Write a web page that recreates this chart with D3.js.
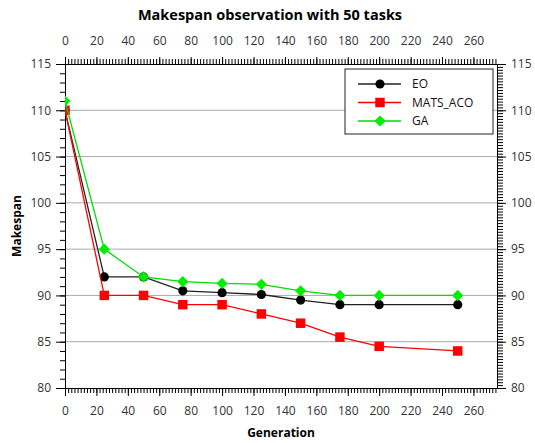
<!DOCTYPE html>
<html>
<head>
<meta charset="utf-8">
<script src="https://cdn.jsdelivr.net/npm/d3@7"></script>
<style>
  body { margin: 0; background: #fff; }
  text { font-family: "Open Sans", "Noto Sans", sans-serif; }
</style>
</head>
<body>
<svg id="chart" width="535" height="443"></svg>
<script>
//
// Data
//
const generations = [0, 25, 50, 75, 100, 125, 150, 175, 200, 250];
const eo = [110, 92, 92, 90.5, 90.3, 90.1, 89.5, 89, 89, 89];
const matsAco = [110, 90, 90, 89, 89, 88, 87, 85.5, 84.5, 84];
const ga = [111, 95, 92, 91.5, 91.3, 91.2, 90.5, 90, 90, 90];
const xTicks = d3.range(0, 261, 20);
const yTicks = [80, 85, 90, 95, 100, 105, 110, 115];

const series = [
  { name: "EO", values: eo, color: "#000", line: "#222", shape: "circle" },
  { name: "MATS_ACO", values: matsAco, color: "#ff0000", line: "#ff0000", shape: "square" },
  { name: "GA", values: ga, color: "#00ee00", line: "#00dd00", shape: "diamond" }
];

//
// Layout
//
const plotLeft = 65, plotRight = 497, plotTop = 64, plotBottom = 388;
const svg = d3.select("#chart");
const x = d3.scaleLinear().domain([0, 275]).range([plotLeft, plotRight]);
const y = d3.scaleLinear().domain([80, 115]).range([plotBottom, plotTop]);

svg.append("clipPath").attr("id", "plot-clip")
  .append("rect")
  .attr("x", plotLeft).attr("y", plotTop)
  .attr("width", plotRight - plotLeft).attr("height", plotBottom - plotTop);

// grid lines
svg.append("g")
  .selectAll("line")
  .data(yTicks.filter(d => d > 80 && d < 115))
  .join("line")
  .attr("x1", plotLeft).attr("x2", plotRight)
  .attr("y1", d => y(d)).attr("y2", d => y(d))
  .attr("stroke", "#aaa").attr("stroke-width", 1);

// axes, major ticks long and minor ticks short, all outward
function styleAxis(g) {
  g.select(".domain").attr("stroke", "#000");
  g.selectAll(".tick line").attr("stroke", "#000");
  g.selectAll(".tick text").attr("fill", "#333").style("font-size", "12px");
}
function minor(axis, values) {
  return axis.tickValues(values).tickSize(5).tickFormat("").tickSizeOuter(0);
}

const xMinor = d3.range(0, 276, 2);
const yMinor = d3.range(80, 115.01, 1);
const yMinorRight = d3.range(80, 115.01, 5 / 16);

svg.append("g").attr("transform", `translate(0,${plotBottom})`)
  .call(minor(d3.axisBottom(x), xMinor)).call(styleAxis);
svg.append("g").attr("transform", `translate(0,${plotBottom})`)
  .call(d3.axisBottom(x).tickValues(xTicks).tickSize(8).tickSizeOuter(0).tickPadding(10))
  .call(styleAxis);

svg.append("g").attr("transform", `translate(0,${plotTop})`)
  .call(minor(d3.axisTop(x), xMinor)).call(styleAxis);
svg.append("g").attr("transform", `translate(0,${plotTop})`)
  .call(d3.axisTop(x).tickValues(xTicks).tickSize(7).tickSizeOuter(0).tickPadding(12))
  .call(styleAxis);

svg.append("g").attr("transform", `translate(${plotLeft},0)`)
  .call(minor(d3.axisLeft(y), yMinor)).call(styleAxis);
svg.append("g").attr("transform", `translate(${plotLeft},0)`)
  .call(d3.axisLeft(y).tickValues(yTicks).tickSize(9).tickSizeOuter(0).tickPadding(5))
  .call(styleAxis);

svg.append("g").attr("transform", `translate(${plotRight},0)`)
  .call(minor(d3.axisRight(y), yMinorRight).tickSize(6)).call(styleAxis);
svg.append("g").attr("transform", `translate(${plotRight},0)`)
  .call(d3.axisRight(y).tickValues(yTicks).tickSize(9).tickSizeOuter(0).tickPadding(5))
  .call(styleAxis);

//
// Series
//
const symbolType = { circle: d3.symbolCircle, square: d3.symbolSquare, diamond: d3.symbolDiamond2 };
const symbolSize = { circle: 66, square: 90, diamond: 80 };

const line = d3.line().x(d => x(d[0])).y(d => y(d[1]));
const marks = svg.append("g").attr("clip-path", "url(#plot-clip)");

series.forEach(s => {
  const pts = generations.map((g, i) => [g, s.values[i]]);
  marks.append("path")
    .datum(pts)
    .attr("fill", "none")
    .attr("stroke", s.line)
    .attr("stroke-width", 1.3)
    .attr("d", line);
  marks.append("g")
    .selectAll("path")
    .data(pts)
    .join("path")
    .attr("transform", d => `translate(${x(d[0])},${y(d[1])})`)
    .attr("d", d3.symbol(symbolType[s.shape], symbolSize[s.shape]))
    .attr("fill", s.color);
});

//
// Legend
//
const legend = svg.append("g");
legend.append("rect")
  .attr("x", 345).attr("y", 69).attr("width", 148).attr("height", 65)
  .attr("fill", "#fff").attr("stroke", "#222").attr("stroke-width", 1);
series.forEach((s, i) => {
  const ly = 84 + i * 18.5;
  legend.append("line")
    .attr("x1", 358).attr("x2", 401).attr("y1", ly).attr("y2", ly)
    .attr("stroke", s.line).attr("stroke-width", 1.3);
  legend.append("path")
    .attr("transform", `translate(380,${ly})`)
    .attr("d", d3.symbol(symbolType[s.shape], symbolSize[s.shape]))
    .attr("fill", s.color);
  legend.append("text")
    .attr("x", 412).attr("y", ly).attr("dy", "0.35em")
    .style("font-size", "12px").attr("fill", "#111")
    .text(s.name);
});

//
// Titles
//
svg.append("text")
  .attr("x", 270).attr("y", 20)
  .attr("text-anchor", "middle")
  .style("font-size", "14.5px").style("font-weight", "bold")
  .text("Makespan observation with 50 tasks");

svg.append("text")
  .attr("x", 281).attr("y", 437)
  .attr("text-anchor", "middle")
  .style("font-size", "12px").style("font-weight", "bold")
  .text("Generation");

svg.append("text")
  .attr("transform", "translate(21,226) rotate(-90)")
  .attr("text-anchor", "middle")
  .style("font-size", "12px").style("font-weight", "bold")
  .text("Makespan");
</script>
</body>
</html>
